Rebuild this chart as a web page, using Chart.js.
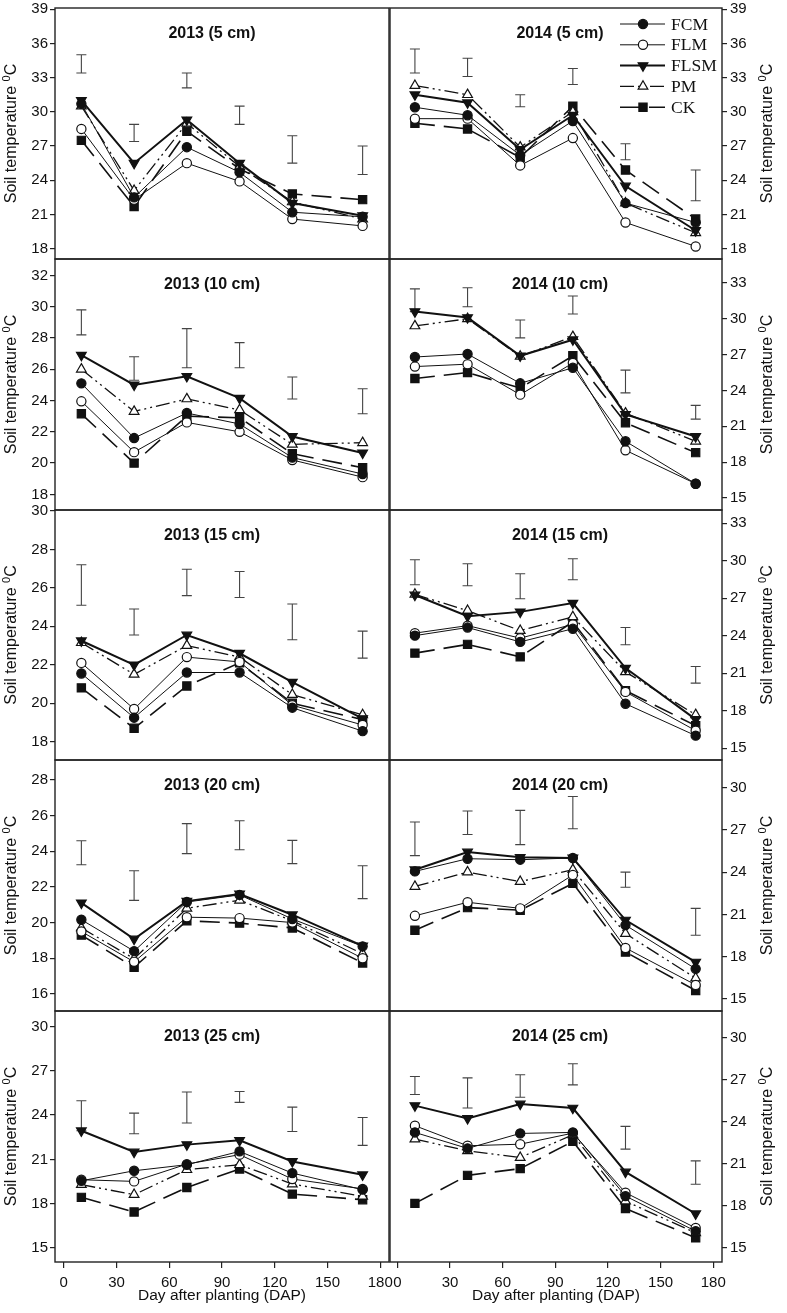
<!DOCTYPE html>
<html>
<head>
<meta charset="utf-8">
<script src="https://cdn.jsdelivr.net/npm/chart.js@4.4.1/dist/chart.umd.min.js"></script>
<style>
  body { margin: 0; background: #fff; }
  #wrap { position: relative; width: 787px; height: 1313px; overflow: hidden; }
  #wrap canvas { position: absolute; }
</style>
</head>
<body>
<div id="wrap"></div>
<script>
// Sampling days (DAP) and series names
const days = [10, 40, 70, 100, 130, 170];
const seriesNames = ['FCM', 'FLM', 'FLSM', 'PM', 'CK'];
const xTicks = [0, 30, 60, 90, 120, 150, 180];

// 2013, 5 cm
const fcm13_5  = [30.7, 22.5, 26.9, 24.7, 21.2, 20.8];
const flm13_5  = [28.5, 22.3, 25.5, 23.9, 20.6, 20.0];
const flsm13_5 = [31.0, 25.5, 29.3, 25.5, 22.0, 20.9];
const pm13_5   = [30.5, 23.1, 29.0, 25.2, 22.1, 20.6];
const ck13_5   = [27.5, 21.7, 28.3, 25.0, 22.8, 22.3];
const lsdHi13_5 = [35.0, 28.9, 33.4, 30.5, 27.9, 27.0];
const lsdLo13_5 = [33.4, 27.4, 32.1, 28.9, 25.5, 24.5];
const yTicks13_5 = [18, 21, 24, 27, 30, 33, 36, 39];

// 2014, 5 cm
const fcm14_5  = [30.4, 29.7, 26.2, 29.2, 22.0, 20.3];
const flm14_5  = [29.4, 29.4, 25.3, 27.7, 20.3, 18.2];
const flsm14_5 = [31.5, 30.8, 26.7, 29.7, 23.5, 19.6];
const pm14_5   = [32.3, 31.5, 26.9, 30.0, 22.0, 19.4];
const ck14_5   = [29.0, 28.5, 26.0, 30.5, 24.9, 20.6];
const lsdHi14_5 = [35.5, 34.7, 31.5, 33.8, 27.2, 24.9];
const lsdLo14_5 = [33.4, 33.1, 30.45, 32.4, 25.8, 22.2];
const yTicks14_5 = [18, 21, 24, 27, 30, 33, 36, 39];

// 2013, 10 cm
const fcm13_10  = [25.1, 21.6, 23.2, 22.5, 20.35, 19.3];
const flm13_10  = [23.95, 20.7, 22.6, 22.0, 20.2, 19.1];
const flsm13_10 = [26.9, 25.0, 25.55, 24.15, 21.7, 20.65];
const pm13_10   = [26.0, 23.3, 24.1, 23.4, 21.2, 21.3];
const ck13_10   = [23.15, 20.0, 23.0, 22.9, 20.6, 19.7];
const lsdHi13_10 = [29.8, 26.8, 28.6, 27.7, 25.5, 24.75];
const lsdLo13_10 = [28.2, 25.3, 26.1, 26.1, 24.1, 23.15];
const yTicks13_10 = [18, 20, 22, 24, 26, 28, 30, 32];

// 2014, 10 cm
const fcm14_10  = [26.8, 27.05, 24.6, 25.9, 19.75, 16.2];
const flm14_10  = [26.0, 26.2, 23.65, 26.3, 19.0, 16.2];
const flsm14_10 = [30.6, 30.1, 26.9, 28.25, 22.0, 20.15];
const pm14_10   = [29.4, 30.0, 26.85, 28.5, 22.1, 19.75];
const ck14_10   = [25.0, 25.5, 24.2, 26.9, 21.3, 18.8];
const lsdHi14_10 = [32.5, 32.6, 29.9, 31.9, 25.7, 22.75];
const lsdLo14_10 = [30.6, 31.0, 28.4, 30.4, 23.8, 21.6];
const yTicks14_10 = [15, 18, 21, 24, 27, 30, 33];

// 2013, 15 cm
const fcm13_15  = [21.55, 19.25, 21.6, 21.6, 19.77, 18.55];
const flm13_15  = [22.1, 19.7, 22.4, 22.15, 19.9, 18.87];
const flsm13_15 = [23.25, 22.0, 23.55, 22.6, 21.1, 19.2];
const pm13_15   = [23.15, 21.5, 23.0, 22.4, 20.45, 19.4];
const ck13_15   = [20.8, 18.7, 20.9, 22.1, 20.0, 19.15];
const lsdHi13_15 = [27.2, 24.9, 26.97, 26.85, 25.16, 23.75];
const lsdLo13_15 = [25.1, 23.55, 25.6, 25.5, 23.3, 22.35];
const yTicks13_15 = [18, 20, 22, 24, 26, 28, 30];

// 2014, 15 cm
const fcm14_15  = [24.0, 24.65, 23.5, 24.55, 18.55, 16.0];
const flm14_15  = [24.2, 24.8, 23.8, 24.9, 19.5, 16.4];
const flsm14_15 = [27.25, 25.55, 25.9, 26.6, 21.4, 17.3];
const pm14_15   = [27.3, 26.0, 24.4, 25.5, 21.1, 17.67];
const ck14_15   = [22.6, 23.3, 22.3, 25.1, 19.6, 16.8];
const lsdHi14_15 = [30.07, 29.75, 28.95, 30.15, 24.65, 21.53];
const lsdLo14_15 = [28.07, 27.99, 26.95, 28.47, 23.27, 20.2];
const yTicks14_15 = [15, 18, 21, 24, 27, 30, 33];

// 2013, 20 cm
const fcm13_20  = [20.16, 18.4, 21.15, 21.55, 20.2, 18.67];
const flm13_20  = [19.5, 17.8, 20.3, 20.25, 20.0, 18.0];
const flsm13_20 = [21.1, 19.08, 21.2, 21.6, 20.44, 18.7];
const pm13_20   = [19.7, 17.98, 20.8, 21.25, 20.1, 18.26];
const ck13_20   = [19.3, 17.5, 20.1, 19.97, 19.7, 17.74];
const lsdHi13_20 = [24.58, 22.9, 25.54, 25.7, 24.6, 23.18];
const lsdLo13_20 = [23.24, 21.24, 23.86, 24.08, 23.3, 21.34];
const yTicks13_20 = [16, 18, 20, 22, 24, 26, 28];

// 2014, 20 cm
const fcm14_20  = [24.05, 24.95, 24.88, 25.0, 20.24, 17.14];
const flm14_20  = [20.9, 21.86, 21.43, 23.8, 18.62, 16.0];
const flsm14_20 = [24.17, 25.43, 25.05, 25.0, 20.6, 17.62];
const pm14_20   = [22.98, 24.0, 23.33, 24.17, 19.64, 16.48];
const ck14_20   = [19.88, 21.48, 21.3, 23.2, 18.33, 15.6];
const lsdHi14_20 = [27.55, 28.33, 28.38, 29.36, 24.0, 21.43];
const lsdLo14_20 = [25.17, 26.67, 25.95, 27.07, 22.93, 19.52];
const yTicks14_20 = [15, 18, 21, 24, 27, 30];

// 2013, 25 cm
const fcm13_25  = [19.55, 20.23, 20.64, 21.54, 20.07, 18.95];
const flm13_25  = [19.62, 19.51, 20.68, 21.32, 19.67, 19.0];
const flsm13_25 = [22.94, 21.5, 22.0, 22.29, 20.86, 19.96];
const pm13_25   = [19.29, 18.61, 20.3, 20.64, 19.33, 18.5];
const ck13_25   = [18.43, 17.44, 19.1, 20.35, 18.65, 18.27];
const lsdHi13_25 = [24.97, 24.13, 25.56, 25.6, 24.54, 23.84];
const lsdLo13_25 = [22.94, 22.74, 23.46, 24.86, 22.89, 21.95];
const yTicks13_25 = [15, 18, 21, 24, 27, 30];

// 2014, 25 cm
const fcm14_25  = [23.24, 22.1, 23.17, 23.24, 18.7, 16.2];
const flm14_25  = [23.72, 22.29, 22.4, 23.19, 18.94, 16.43];
const flsm14_25 = [25.15, 24.24, 25.27, 24.98, 20.42, 17.44];
const pm14_25   = [22.76, 21.93, 21.45, 23.07, 18.34, 16.08];
const ck14_25   = [18.18, 20.18, 20.66, 22.6, 17.82, 15.72];
const lsdHi14_25 = [27.23, 27.13, 27.35, 28.14, 23.67, 21.21];
const lsdLo14_25 = [25.94, 24.98, 25.75, 26.63, 22.05, 19.54];
const yTicks14_25 = [15, 18, 21, 24, 27, 30];

const panels = [
  {title: '2013 (5 cm)',  row: 0, col: 0, series: [fcm13_5, flm13_5, flsm13_5, pm13_5, ck13_5], hi: lsdHi13_5, lo: lsdLo13_5, ticks: yTicks13_5, min: 17.1, max: 39.1},
  {title: '2014 (5 cm)',  row: 0, col: 1, series: [fcm14_5, flm14_5, flsm14_5, pm14_5, ck14_5], hi: lsdHi14_5, lo: lsdLo14_5, ticks: yTicks14_5, min: 17.1, max: 39.1, legend: true},
  {title: '2013 (10 cm)', row: 1, col: 0, series: [fcm13_10, flm13_10, flsm13_10, pm13_10, ck13_10], hi: lsdHi13_10, lo: lsdLo13_10, ticks: yTicks13_10, min: 17, max: 33.05},
  {title: '2014 (10 cm)', row: 1, col: 1, series: [fcm14_10, flm14_10, flsm14_10, pm14_10, ck14_10], hi: lsdHi14_10, lo: lsdLo14_10, ticks: yTicks14_10, min: 14, max: 35},
  {title: '2013 (15 cm)', row: 2, col: 0, series: [fcm13_15, flm13_15, flsm13_15, pm13_15, ck13_15], hi: lsdHi13_15, lo: lsdLo13_15, ticks: yTicks13_15, min: 17.05, max: 30.05},
  {title: '2014 (15 cm)', row: 2, col: 1, series: [fcm14_15, flm14_15, flsm14_15, pm14_15, ck14_15], hi: lsdHi14_15, lo: lsdLo14_15, ticks: yTicks14_15, min: 14.05, max: 34.05},
  {title: '2013 (20 cm)', row: 3, col: 0, series: [fcm13_20, flm13_20, flsm13_20, pm13_20, ck13_20], hi: lsdHi13_20, lo: lsdLo13_20, ticks: yTicks13_20, min: 15.05, max: 29.1},
  {title: '2014 (20 cm)', row: 3, col: 1, series: [fcm14_20, flm14_20, flsm14_20, pm14_20, ck14_20], hi: lsdHi14_20, lo: lsdLo14_20, ticks: yTicks14_20, min: 14.15, max: 31.95},
  {title: '2013 (25 cm)', row: 4, col: 0, series: [fcm13_25, flm13_25, flsm13_25, pm13_25, ck13_25], hi: lsdHi13_25, lo: lsdLo13_25, ticks: yTicks13_25, min: 14.05, max: 31.05},
  {title: '2014 (25 cm)', row: 4, col: 1, series: [fcm14_25, flm14_25, flsm14_25, pm14_25, ck14_25], hi: lsdHi14_25, lo: lsdLo14_25, ticks: yTicks14_25, min: 14, max: 31.9}
];

// Line / marker style per treatment
const seriesStyles = [
  {borderWidth: 1,   borderDash: [],                  pointStyle: 'circle',   rotation: 0,   radius: 4.6, fill: '#111'},
  {borderWidth: 1,   borderDash: [],                  pointStyle: 'circle',   rotation: 0,   radius: 4.6, fill: '#fff'},
  {borderWidth: 2,   borderDash: [],                  pointStyle: 'triangle', rotation: 180, radius: 5.6, fill: '#111'},
  {borderWidth: 1.3, borderDash: [14, 4, 2, 4, 2, 4], pointStyle: 'triangle', rotation: 0,   radius: 5.6, fill: '#fff'},
  {borderWidth: 1.6, borderDash: [20, 9],             pointStyle: 'rect',     rotation: 0,   radius: 5.8, fill: '#111'}
];

const INK = '#111';
const FONT = '"Liberation Sans", Arial, sans-serif';
Chart.defaults.font.family = FONT;
Chart.defaults.color = INK;

// Plot-area geometry of the 5 x 2 grid
const colLeft = [55, 390], colRight = [389, 722];
const rowTop = [8, 259, 510, 760, 1011, 1262];
const PAD_T = 12, PAD_B = 12, X_AXIS_H = 51;

function drawMarker(ctx, st, x, y) {
  const r = st.radius;
  ctx.save();
  ctx.setLineDash([]);
  ctx.fillStyle = st.fill;
  ctx.strokeStyle = INK;
  ctx.lineWidth = 1.2;
  ctx.beginPath();
  if (st.pointStyle === 'circle') {
    ctx.arc(x, y, r, 0, Math.PI * 2);
  } else if (st.pointStyle === 'rect') {
    const s = r * Math.SQRT1_2;
    ctx.rect(x - s, y - s, 2 * s, 2 * s);
  } else {
    const d = st.rotation === 180 ? -1 : 1;
    ctx.moveTo(x, y - d * r);
    ctx.lineTo(x + 0.866 * r, y + d * 0.5 * r);
    ctx.lineTo(x - 0.866 * r, y + d * 0.5 * r);
    ctx.closePath();
  }
  ctx.fill();
  ctx.stroke();
  ctx.restore();
}

function yTitle(ctx, cx, cy) {
  const main = 'Soil temperature ';
  ctx.save();
  ctx.translate(cx, cy);
  ctx.rotate(-Math.PI / 2);
  ctx.fillStyle = INK;
  ctx.textBaseline = 'middle';
  ctx.font = '16px ' + FONT;
  const w1 = ctx.measureText(main).width;
  const wC = ctx.measureText('C').width;
  ctx.font = '11px ' + FONT;
  const w0 = ctx.measureText('0').width;
  let x = -(w1 + w0 + wC) / 2;
  ctx.font = '16px ' + FONT;
  ctx.fillText(main, x, 0);
  x += w1;
  ctx.font = '11px ' + FONT;
  ctx.fillText('0', x, -5);
  x += w0;
  ctx.font = '16px ' + FONT;
  ctx.fillText('C', x, 0);
  ctx.restore();
}

function decorPlugin(p) {
  return {
    id: 'decor',
    beforeDatasetsDraw(chart) {
      const {ctx, scales: {x, y}} = chart;
      ctx.save();
      ctx.strokeStyle = '#444';
      ctx.lineWidth = 1.1;
      p.hi.forEach((hi, i) => {
        const px = x.getPixelForValue(days[i]);
        const y1 = y.getPixelForValue(hi), y2 = y.getPixelForValue(p.lo[i]);
        ctx.beginPath();
        ctx.moveTo(px, y1); ctx.lineTo(px, y2);
        ctx.moveTo(px - 5, y1); ctx.lineTo(px + 5, y1);
        ctx.moveTo(px - 5, y2); ctx.lineTo(px + 5, y2);
        ctx.stroke();
      });
      ctx.restore();
    },
    afterDraw(chart) {
      const {ctx, chartArea: a} = chart;
      ctx.save();
      // panel frame
      ctx.strokeStyle = '#222';
      ctx.lineWidth = 1.4;
      ctx.strokeRect(a.left, a.top, a.right - a.left, a.bottom - a.top);
      // panel title
      ctx.fillStyle = INK;
      ctx.font = 'bold 16px ' + FONT;
      ctx.textAlign = 'center';
      ctx.textBaseline = 'middle';
      ctx.fillText(p.title, a.left + (p.col === 0 ? 157 : 170), a.top + 26);
      ctx.restore();
      // y axis title
      const cy = (a.top + a.bottom) / 2;
      yTitle(ctx, p.col === 0 ? 12 : a.right + 46, cy);
      // legend
      if (p.legend) {
        ctx.save();
        ctx.font = '17.5px "Liberation Serif", "Times New Roman", serif';
        ctx.textBaseline = 'middle';
        ctx.fillStyle = INK;
        seriesNames.forEach((name, i) => {
          const st = seriesStyles[i];
          const ly = a.top + 16 + i * 20.8;
          const x0 = a.left + 230, x1 = a.left + 275;
          ctx.strokeStyle = INK;
          ctx.lineWidth = st.borderWidth;
          ctx.setLineDash(st.borderDash);
          ctx.beginPath();
          ctx.moveTo(x0, ly); ctx.lineTo(x1, ly);
          ctx.stroke();
          ctx.setLineDash([]);
          drawMarker(ctx, st, a.left + 253, ly);
          ctx.fillText(name, a.left + 281, ly + 1);
        });
        ctx.restore();
      }
    }
  };
}

const wrap = document.getElementById('wrap');

panels.forEach(p => {
  const L = colLeft[p.col], R = colRight[p.col];
  const T = rowTop[p.row], B = rowTop[p.row + 1];
  const last = p.row === 4;
  const left = p.col === 0;
  const padL = left ? 55 : 10;
  const padR = left ? 16 : 65;
  const w = (R - L) + padL + padR;
  const h = (B - T) + PAD_T + (last ? X_AXIS_H : PAD_B);
  const cv = document.createElement('canvas');
  cv.width = w; cv.height = h;
  cv.style.width = w + 'px'; cv.style.height = h + 'px';
  cv.style.left = (L - padL) + 'px';
  cv.style.top = (T - PAD_T) + 'px';
  wrap.appendChild(cv);

  const datasets = seriesNames.map((name, i) => {
    const st = seriesStyles[i];
    return {
      label: name,
      data: days.map((d, j) => ({x: d, y: p.series[i][j]})),
      borderColor: INK,
      borderWidth: st.borderWidth,
      borderDash: st.borderDash,
      pointStyle: st.pointStyle,
      pointRotation: st.rotation,
      pointRadius: st.radius,
      pointBackgroundColor: st.fill,
      pointBorderColor: INK,
      pointBorderWidth: 1.2,
      tension: 0
    };
  });

  new Chart(cv, {
    type: 'line',
    data: {datasets},
    options: {
      responsive: false,
      animation: false,
      devicePixelRatio: 1,
      clip: false,
      layout: {
        padding: {left: left ? 0 : padL, right: left ? padR : 0, top: PAD_T, bottom: last ? 0 : PAD_B}
      },
      plugins: {legend: {display: false}, tooltip: {enabled: false}},
      scales: {
        x: {
          type: 'linear',
          min: left ? -5 : -4.2,
          max: 185,
          display: last,
          afterFit: s => { s.height = last ? X_AXIS_H : 0; },
          afterBuildTicks: s => { s.ticks = xTicks.map(v => ({value: v})); },
          border: {display: false},
          grid: {drawOnChartArea: false, drawTicks: true, tickLength: 6, color: '#222', lineWidth: 1.2},
          ticks: {autoSkip: false, maxRotation: 0, padding: 6, font: {size: 15}, color: INK},
          title: {display: true, text: 'Day after planting (DAP)', font: {size: 15.5}, color: INK, padding: {top: 0, bottom: 8}}
        },
        y: {
          type: 'linear',
          position: left ? 'left' : 'right',
          min: p.min,
          max: p.max,
          afterFit: s => { s.width = left ? padL : padR; },
          afterBuildTicks: s => { s.ticks = p.ticks.map(v => ({value: v})); },
          border: {display: false},
          grid: {drawOnChartArea: false, drawTicks: true, tickLength: 5, color: '#222', lineWidth: 1.2},
          ticks: {autoSkip: false, padding: left ? 2 : 3, font: {size: 15}, color: INK}
        }
      }
    },
    plugins: [decorPlugin(p)]
  });
});
</script>
</body>
</html>
